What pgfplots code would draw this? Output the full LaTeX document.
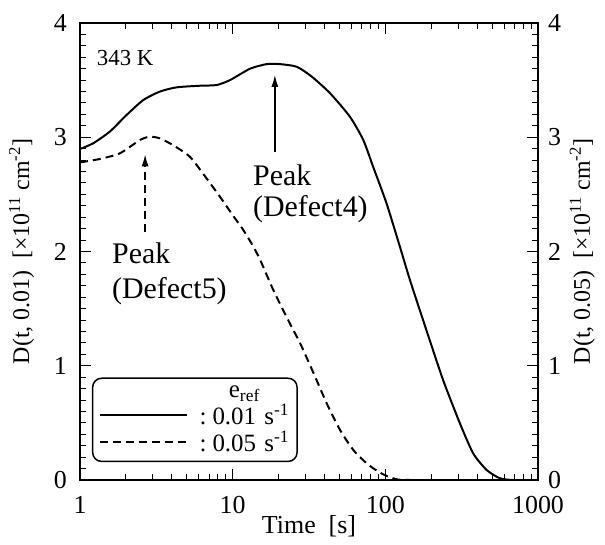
\documentclass[border=0pt]{standalone}
\usepackage{fontspec}
\setmainfont{Liberation Serif}
\usepackage{pgfplots}
\pgfplotsset{compat=1.18}
\usetikzlibrary{arrows.meta,calc}

\begin{document}
\begin{tikzpicture}
\begin{axis}[
  name=main,
  scale only axis,
  width=458bp, height=457bp,
  xmode=log, xmin=1, xmax=1000,
  ymin=0, ymax=4,
  ytick={0,1,2,3,4},
  minor y tick num=9,
  xtick={1,10,100,1000},
  xticklabels={1,10,100,1000},
  tick align=inside,
  major tick length=11bp, minor tick length=6bp,
  every tick/.style={black, line width=1pt},
  axis line style={line width=1.5pt},
  ticklabel style={font=\fontsize{26}{26}\selectfont, inner sep=1bp},
  xticklabel style={yshift=-15bp},
  yticklabel style={xshift=-12bp},
  /pgf/number format/assume math mode=true,
  ytick pos=both, yticklabel pos=left,
  xtick pos=both, xticklabel pos=bottom,
  xlabel={Time\ \ [s]},
  xlabel style={font=\fontsize{26}{30}\selectfont, yshift=3bp},
  ylabel={D(t, 0.01)\ \ [×10\textsuperscript{11} cm\textsuperscript{-2}]},
  ylabel style={font=\fontsize{24}{28}\selectfont, yshift=15bp},
  legend image code/.code={\draw[#1] (0bp,0bp) -- (87bp,0bp);},
  legend cell align=center,
  legend style={at={(0.026,0.039)}, anchor=south west, draw=black,
    line width=1.5pt, rounded corners=9bp,
    font=\fontsize{25}{27}\selectfont, row sep=1bp,
    inner xsep=6bp, inner ysep=6bp},
]
\addlegendimage{empty legend}
\addlegendentry{\hspace{10bp}e\textsubscript{ref}}
\addplot[black, line width=2pt, smooth, tension=0.4] coordinates {
  (1,2.897) (1.22,2.947) (1.57,3.05) (2.02,3.195) (2.60,3.326) (3.34,3.40)
  (4.30,3.437) (6.11,3.451) (7.85,3.457) (9.6,3.50) (13.0,3.60) (16.7,3.64)
  (20.4,3.64) (26.3,3.617) (33,3.53) (43.4,3.386) (58.6,3.18) (71.7,2.976)
  (83.3,2.74) (101.9,2.42) (124.7,2.04) (145,1.75) (186,1.31) (239,0.875)
  (308,0.496) (376,0.234) (461,0.0875) (563,0.015) (687,0) (1000,0)
};
\addlegendentry{\hspace{10bp}:\hspace{6bp}0.01\hspace{2bp} s\textsuperscript{-1}}
\addplot[black, line width=2pt, smooth, tension=0.4, dash pattern=on 8bp off 5bp] coordinates {
  (1,2.78) (1.35,2.81) (1.83,2.86) (2.47,2.976) (2.87,3.005) (3.34,2.99)
  (4.08,2.93) (5.24,2.83) (6.41,2.68) (8.25,2.48) (10.1,2.31) (11.45,2.21)
  (13.3,2.07) (15.1,1.93) (18.5,1.66) (23.7,1.37) (27.6,1.20) (33.5,0.95)
  (41.3,0.671) (50.5,0.438) (61.7,0.263) (75.4,0.146) (92.2,0.064)
  (112.6,0.015) (145,0) (1000,0)
};
\addlegendentry{\hspace{10bp}:\hspace{6bp}0.05\hspace{2bp} s\textsuperscript{-1}}
\draw[line width=1.3pt, -{Latex[length=12bp,width=7bp]}] (axis cs:18.9,2.87) -- (axis cs:18.9,3.545);
\draw[line width=1.3pt, dash pattern=on 8bp off 5bp, -{Latex[length=12bp,width=7bp]}] (axis cs:2.67,2.17) -- (axis cs:2.67,2.85);
\node[anchor=base west, inner sep=0pt, font=\fontsize{30}{33}\selectfont] at (axis cs:13.58,2.582) {Peak};
\node[anchor=base west, inner sep=0pt, font=\fontsize{30}{33}\selectfont] at (axis cs:13.58,2.302) {(Defect4)};
\node[anchor=base west, inner sep=0pt, font=\fontsize{30}{33}\selectfont] at (axis cs:1.62,1.899) {Peak};
\node[anchor=base west, inner sep=0pt, font=\fontsize{30}{33}\selectfont] at (axis cs:1.62,1.593) {(Defect5)};
\node[anchor=base west, inner sep=0pt, font=\fontsize{23}{25}\selectfont] at (axis cs:1.286,3.632) {343 K};
\end{axis}
\begin{axis}[
  scale only axis,
  width=458bp, height=457bp,
  xmode=log, xmin=1, xmax=1000,
  ymin=0, ymax=4,
  ytick={0,1,2,3,4},
  minor y tick num=9,
  tick align=inside,
  major tick length=11bp, minor tick length=6bp,
  every tick/.style={black, line width=1pt},
  axis line style={line width=1.5pt},
  ticklabel style={font=\fontsize{26}{26}\selectfont, inner sep=1bp},
  yticklabel style={xshift=9bp},
  /pgf/number format/assume math mode=true,
  axis y line*=right,
  hide x axis,
  ylabel={D(t, 0.05)\ \ [×10\textsuperscript{11} cm\textsuperscript{-2}]},
  ylabel style={font=\fontsize{24}{28}\selectfont, yshift=-4bp},
]
\end{axis}
\pgfresetboundingbox
\path[use as bounding box] ($(main.south west)+(-80bp,-65bp)$) rectangle ($(main.south west)+(525bp,480bp)$);
\end{tikzpicture}
\end{document}
